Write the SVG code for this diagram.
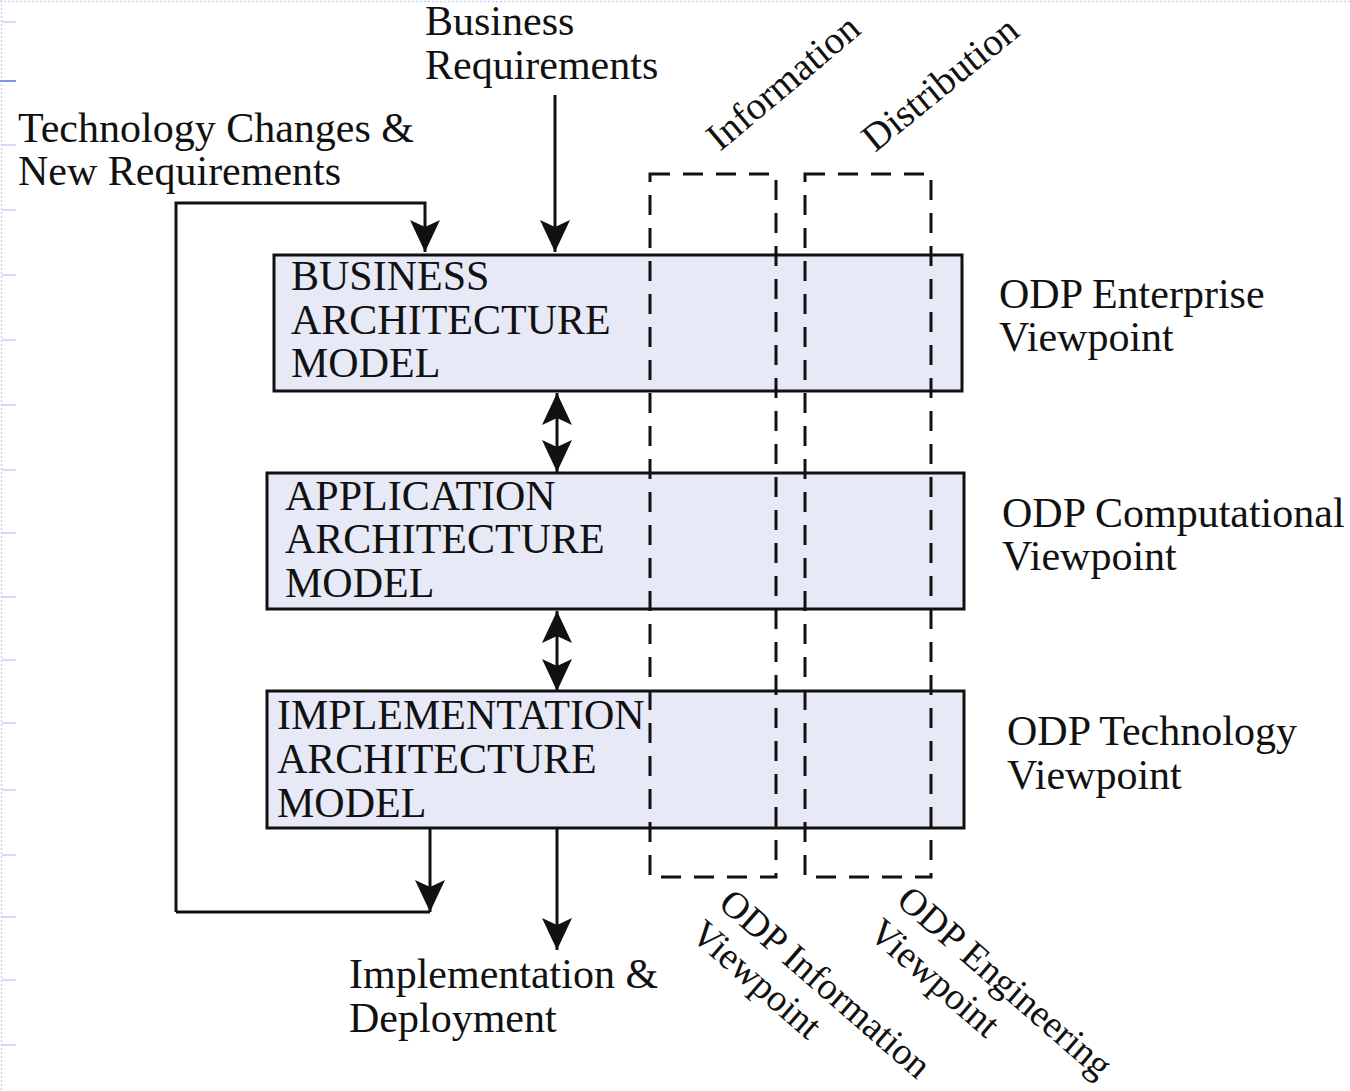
<svg xmlns="http://www.w3.org/2000/svg" width="1350" height="1091" viewBox="0 0 1350 1091">
<style>
text{font-family:"Liberation Serif","Times New Roman",serif;font-size:42px;fill:#111}
.rt{font-size:39px}
.rb{font-size:38px}
.box{fill:#e7e9f6;stroke:#111;stroke-width:3}
.con{fill:none;stroke:#111;stroke-width:3}
.dash{fill:none;stroke:#111;stroke-width:3;stroke-dasharray:20 13}
.deco{stroke:#c9d1f2;stroke-width:1.5;fill:none}
</style>
<defs>
<marker id="ah" markerUnits="userSpaceOnUse" markerWidth="34" markerHeight="32" refX="32" refY="15" orient="auto-start-reverse">
<path d="M0,0 L32,15 L0,30 L7,15 Z" fill="#111"/>
</marker>
</defs>
<rect width="1350" height="1091" fill="#fff"/>
<g id="decoration">
<line class="deco" x1="1.5" y1="0" x2="1.5" y2="1091" stroke-dasharray="2 2"/>
<line class="deco" x1="0" y1="1.5" x2="1350" y2="1.5" stroke-dasharray="2 2"/>
<path class="deco" d="M2,22h14M2,145h14M2,210h14M2,275h14M2,340h14M2,405h14M2,470h14M2,533h14M2,597h14M2,660h14M2,723h14M2,790h14M2,855h14M2,917h14M2,980h14M2,1045h14"/>
<line x1="0" y1="81" x2="16" y2="81" stroke="#7f93e8" stroke-width="2"/>
</g>
<g id="nodes">
<g id="business">
<rect class="box" x="274" y="255" width="688" height="136"/>
<text x="291" y="290">BUSINESS</text>
<text x="291" y="334">ARCHITECTURE</text>
<text x="291" y="377">MODEL</text>
</g>
<g id="application">
<rect class="box" x="267" y="473" width="697" height="136"/>
<text x="285" y="510">APPLICATION</text>
<text x="285" y="553">ARCHITECTURE</text>
<text x="285" y="597">MODEL</text>
</g>
<g id="implementation">
<rect class="box" x="267" y="691" width="697" height="137"/>
<text x="277" y="729">IMPLEMENTATION</text>
<text x="277" y="773">ARCHITECTURE</text>
<text x="277" y="817">MODEL</text>
</g>
<g id="info-column">
<rect class="dash" x="650" y="174" width="126" height="703"/>
<text class="rt" transform="translate(720,152) rotate(-40)">Information</text>
<g transform="translate(717,906) rotate(41)">
<text class="rb" x="0" y="0">ODP Information</text>
<text class="rb" x="-1" y="42">Viewpoint</text>
</g>
</g>
<g id="distribution-column">
<rect class="dash" x="805" y="174" width="126" height="703"/>
<text class="rt" transform="translate(875,153) rotate(-39)">Distribution</text>
<g transform="translate(895,903) rotate(41)">
<text class="rb" x="0" y="0">ODP Engineering</text>
<text class="rb" x="0" y="43">Viewpoint</text>
</g>
</g>
<g id="labels">
<text x="425" y="35">Business</text>
<text x="425" y="79">Requirements</text>
<text x="18" y="142">Technology Changes &amp;</text>
<text x="18" y="185">New Requirements</text>
<text x="999" y="308">ODP Enterprise</text>
<text x="999" y="351">Viewpoint</text>
<text x="1002" y="527">ODP Computational</text>
<text x="1002" y="570">Viewpoint</text>
<text x="1007" y="745">ODP Technology</text>
<text x="1007" y="789">Viewpoint</text>
<text x="349" y="988">Implementation &amp;</text>
<text x="349" y="1032">Deployment</text>
</g>
</g>
<g id="connectors">
<path class="con" d="M555,95 V252" marker-end="url(#ah)"/>
<path class="con" d="M176,912 V203 H425 V252" marker-end="url(#ah)"/>
<path class="con" d="M176,912 H430"/>
<path class="con" d="M430,828 V912" marker-end="url(#ah)"/>
<path class="con" d="M557,393 V472" marker-start="url(#ah)" marker-end="url(#ah)"/>
<path class="con" d="M557,611 V691" marker-start="url(#ah)" marker-end="url(#ah)"/>
<path class="con" d="M557,829 V950" marker-end="url(#ah)"/>
</g>
</svg>
